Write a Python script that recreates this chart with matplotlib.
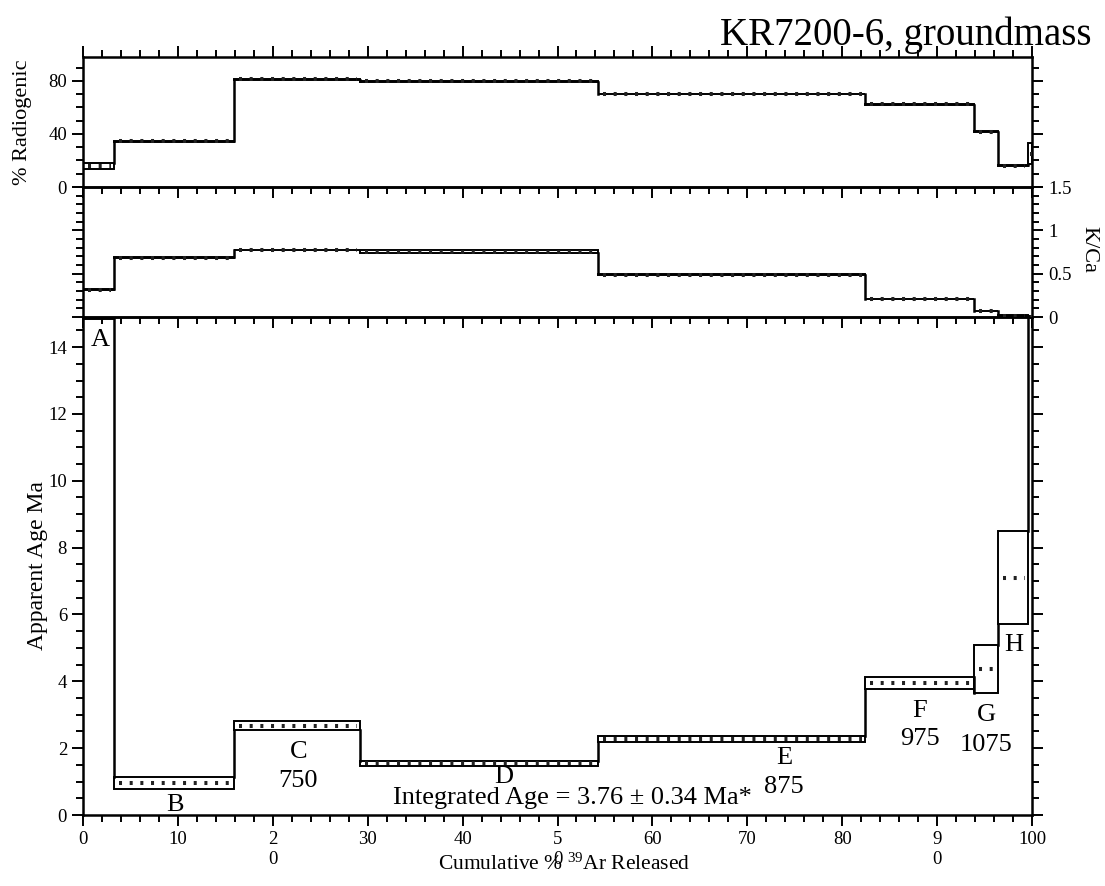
import matplotlib
matplotlib.use("Agg")
import matplotlib.pyplot as plt
from matplotlib.patches import Rectangle
from matplotlib.ticker import MultipleLocator, FixedLocator

plt.rcParams['font.family'] = ['Liberation Serif', 'DejaVu Serif']
plt.rcParams['mathtext.fontset'] = 'custom'
plt.rcParams['mathtext.rm'] = 'Liberation Serif'
plt.rcParams['mathtext.it'] = 'Liberation Serif:italic'

# step edges (cumulative % 39Ar released)
edges = [0, 3.3, 15.9, 29.2, 54.3, 82.4, 93.9, 96.4, 99.6, 100]
steps = ['A', 'B', 'C', 'D', 'E', 'F', 'G', 'H', 'I']

# apparent age (Ma) and 1-sigma error
age = [15.4, 0.96, 2.67, 1.55, 2.28, 3.95, 4.36, 7.1, 20.0]
age_err = [0.55, 0.18, 0.13, 0.08, 0.09, 0.18, 0.72, 1.4, 2.0]

# % radiogenic
rad = [15.7, 34.6, 81.2, 79.6, 70.1, 62.5, 41.6, 15.9, 25.2]
rad_err = [2.3, 0.35, 0.35, 0.35, 0.35, 0.35, 0.35, 0.4, 8.0]

# K/Ca
kca = [0.315, 0.685, 0.774, 0.754, 0.488, 0.207, 0.069, 0.015, 0.005]
kca_err = [0.004, 0.004, 0.004, 0.016, 0.004, 0.004, 0.004, 0.004, 0.004]

# temperature labels under some steps
temp_steps = ['C', 'E', 'F', 'G']
temp_vals = ['750', '875', '975', '1075']

xtick_vals = [0, 10, 20, 30, 40, 50, 60, 70, 80, 90, 100]
xtick_text = ['0', '10', '2\n0', '30', '40', '5\n0', '60', '70', '80', '9\n0', '100']


def draw_spectrum(ax, vals, errs):
    lo = [v - e for v, e in zip(vals, errs)]
    hi = [v + e for v, e in zip(vals, errs)]
    for i in range(len(vals)):
        ax.add_patch(Rectangle((edges[i], lo[i]), edges[i + 1] - edges[i], hi[i] - lo[i],
                               facecolor='white', edgecolor='black', linewidth=1.4, zorder=2))
        ax.plot([edges[i] + 0.5, edges[i + 1] - 0.3], [vals[i], vals[i]], color='#222222',
                linewidth=2.9, linestyle=(0, (0.75, 1.9)), zorder=3)
    # vertical connectors between neighbouring steps
    for i in range(len(vals) - 1):
        if vals[i] < vals[i + 1]:
            y0, y1 = hi[i], lo[i + 1]
        else:
            y0, y1 = lo[i], hi[i + 1]
        ax.plot([edges[i + 1], edges[i + 1]], [y0, y1], color='black', linewidth=1.8, zorder=2)


def style(ax):
    for s in ax.spines.values():
        s.set_linewidth(1.8)
    ax.set_facecolor('none')
    ax.set_xlim(0, 100)
    ax.xaxis.set_major_locator(MultipleLocator(10))
    ax.xaxis.set_minor_locator(MultipleLocator(2))
    ax.tick_params(which='both', direction='out', bottom=True, right=True, width=1.4,
                   labelsize=13.5)
    ax.tick_params(which='major', length=8)
    ax.tick_params(which='minor', length=5)


fig = plt.figure(figsize=(11.05, 8.86), dpi=100)
left, width = 83 / 1105, 949 / 1105
ax_age = fig.add_axes([left, 71 / 886, width, 498 / 886])
ax_kca = fig.add_axes([left, 569 / 886, width, 130 / 886])
ax_rad = fig.add_axes([left, 699 / 886, width, 130 / 886])

# --- % radiogenic ---
style(ax_rad)
draw_spectrum(ax_rad, rad, rad_err)
ax_rad.set_ylim(0, 98)
ax_rad.yaxis.set_major_locator(FixedLocator([0, 40, 80]))
ax_rad.yaxis.set_minor_locator(MultipleLocator(10))
ax_rad.tick_params(which='both', top=True, labelbottom=False)
ax_rad.set_ylabel('% Radiogenic', fontsize=16, va='center')
ax_rad.yaxis.set_label_coords(-0.064, 0.5)

# --- K/Ca ---
style(ax_kca)
draw_spectrum(ax_kca, kca, kca_err)
ax_kca.set_ylim(0, 1.5)
ax_kca.yaxis.set_major_locator(FixedLocator([0, 0.5, 1, 1.5]))
ax_kca.yaxis.set_minor_locator(MultipleLocator(0.1))
ax_kca.set_yticklabels(['0', '0.5', '1', '1.5'])
ax_kca.tick_params(labelbottom=False, labelleft=False, labelright=True)
ax_kca.yaxis.set_label_position('right')
ax_kca.set_ylabel('K/Ca', fontsize=16, rotation=270, va='center')
ax_kca.yaxis.set_label_coords(1.06, 0.52)

# --- apparent age ---
style(ax_age)
draw_spectrum(ax_age, age, age_err)
ax_age.set_ylim(0, 14.9)
ax_age.yaxis.set_major_locator(MultipleLocator(2))
ax_age.yaxis.set_minor_locator(MultipleLocator(0.5))
ax_age.set_xticks(xtick_vals)
ax_age.set_xticklabels(xtick_text, va='top')
ax_age.xaxis.set_minor_locator(MultipleLocator(2))
ax_age.set_ylabel('Apparent Age Ma', fontsize=17, va='center')
ax_age.yaxis.set_label_coords(-0.048, 0.5)
ax_age.set_xlabel('Cumulative % $^{39}$Ar Released', fontsize=15.5)
ax_age.xaxis.label.set_va('center')
ax_age.xaxis.set_label_coords(0.507, -0.098)

# step letters and temperatures
letter_pos = {'A': (1.8, 14.2), 'B': (9.7, 0.3), 'C': (22.7, 1.88), 'D': (44.3, 1.15),
              'E': (73.9, 1.7), 'F': (88.2, 3.11), 'G': (95.2, 2.99), 'H': (98.1, 5.08)}
temp_y = {'C': 1.02, 'E': 0.84, 'F': 2.27, 'G': 2.09}
for s, (x, y) in letter_pos.items():
    ax_age.text(x, y, s, fontsize=19, ha='center', va='center', zorder=5)
for s, t in zip(temp_steps, temp_vals):
    ax_age.text(letter_pos[s][0], temp_y[s], t, fontsize=19, ha='center', va='center', zorder=5)

ax_age.text(51.6, 0.52, 'Integrated Age = 3.76 \u00b1 0.34 Ma*', fontsize=19,
            ha='center', va='center', zorder=5)

fig.text(0.988, 0.9605, 'KR7200-6, groundmass', fontsize=28, ha='right', va='center')

fig.savefig('out.png', dpi=100)
